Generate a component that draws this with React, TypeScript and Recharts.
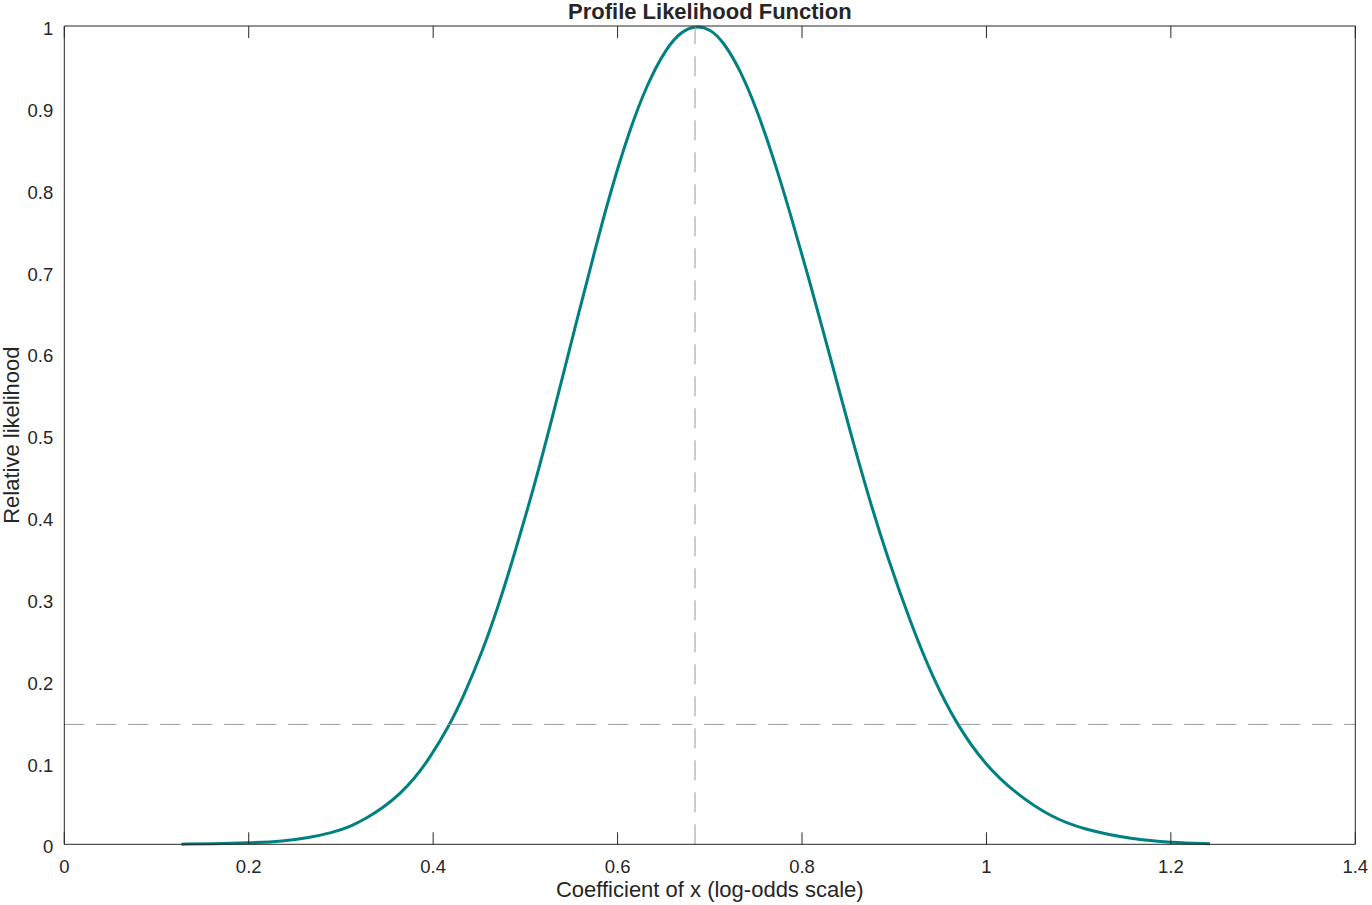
import { Label, Line, LineChart, ReferenceLine, XAxis, YAxis } from "recharts";

// coefficient values (log-odds scale)
const coefficient = [
  0.127, 0.16, 0.2, 0.2375, 0.265, 0.29, 0.31, 0.328, 0.346, 0.364, 0.38, 0.395,
  0.418, 0.433, 0.454, 0.4725, 0.4906, 0.5086, 0.525, 0.541, 0.5557, 0.57, 0.581,
  0.5954, 0.6135, 0.6316, 0.653, 0.67, 0.684, 0.7, 0.7147, 0.7328, 0.751, 0.769,
  0.787, 0.805, 0.823, 0.8383, 0.8567, 0.8745, 0.8929, 0.9179, 0.9424, 0.968,
  0.9985, 1.033, 1.069, 1.105, 1.159, 1.2, 1.2425,
];

// relative likelihood at each coefficient
const likelihood = [
  0.0002, 0.0006, 0.0017, 0.0038, 0.008, 0.014, 0.0215, 0.032, 0.045, 0.0615, 0.081, 0.103,
  0.146, 0.181, 0.237, 0.297, 0.364, 0.434, 0.503, 0.574, 0.64, 0.702, 0.75,
  0.809, 0.874, 0.928, 0.974, 0.994, 1.0, 0.997, 0.981, 0.947, 0.898, 0.839,
  0.772, 0.701, 0.627, 0.563, 0.486, 0.416, 0.35, 0.27, 0.202, 0.146,
  0.097, 0.061, 0.034, 0.018, 0.006, 0.0022, 0.0008,
];

const xTicks = [0, 0.2, 0.4, 0.6, 0.8, 1, 1.2, 1.4];
const yTicks = [0, 0.1, 0.2, 0.3, 0.4, 0.5, 0.6, 0.7, 0.8, 0.9, 1];

const mle = 0.684;
const cutoff = 0.1465;

const data = coefficient.map((x, i) => ({ x, y: likelihood[i] }));

const FONT = '"Liberation Sans", Arial, Helvetica, sans-serif';
const AXIS = "#262626";

// inner tick marks only, no labels
const noLabel = () => <g />;

export default function App() {
  return (
    <div style={{ position: "absolute", left: 0, top: 0, width: 1372, height: 905, fontFamily: FONT }}>
      <LineChart
        width={1372}
        height={905}
        data={data}
        margin={{ top: 26, right: 16.7, bottom: 0, left: 0 }}
      >
        <XAxis
          xAxisId="x"
          dataKey="x"
          type="number"
          domain={[0, 1.4]}
          ticks={xTicks}
          height={60.7}
          tickLine={false}
          tickMargin={10}
          axisLine={{ stroke: AXIS, strokeWidth: 1 }}
          tick={{ fill: AXIS, fontSize: 18.5, fontFamily: FONT }}
        >
          <Label
            value="Coefficient of x (log-odds scale)"
            position="insideBottom"
            offset={7.7}
            style={{ fill: AXIS, fontSize: 22, fontFamily: FONT }}
          />
        </XAxis>
        <XAxis
          xAxisId="xin"
          dataKey="x"
          type="number"
          domain={[0, 1.4]}
          ticks={xTicks}
          mirror
          tick={noLabel}
          tickSize={12}
          axisLine={false}
          tickLine={{ stroke: AXIS }}
        />
        <XAxis
          xAxisId="xtop"
          orientation="top"
          dataKey="x"
          type="number"
          domain={[0, 1.4]}
          ticks={xTicks}
          mirror
          tick={noLabel}
          tickSize={12}
          axisLine={{ stroke: AXIS }}
          tickLine={{ stroke: AXIS }}
        />
        <YAxis
          yAxisId="y"
          type="number"
          domain={[0, 1]}
          ticks={yTicks}
          width={64.3}
          tickLine={false}
          tickMargin={5}
          axisLine={{ stroke: AXIS, strokeWidth: 1 }}
          tick={{ fill: AXIS, fontSize: 18.5, fontFamily: FONT, dy: 2.5 }}
        >
          <Label
            value="Relative likelihood"
            angle={-90}
            position="insideLeft"
            offset={11}
            style={{ textAnchor: "middle", fill: AXIS, fontSize: 22, fontFamily: FONT }}
          />
        </YAxis>
        <YAxis
          yAxisId="yin"
          type="number"
          domain={[0, 1]}
          ticks={yTicks}
          mirror
          tick={noLabel}
          tickSize={12}
          axisLine={false}
          tickLine={{ stroke: AXIS }}
        />
        <YAxis
          yAxisId="yright"
          orientation="right"
          type="number"
          domain={[0, 1]}
          ticks={yTicks}
          mirror
          tick={noLabel}
          tickSize={12}
          axisLine={{ stroke: AXIS }}
          tickLine={{ stroke: AXIS }}
        />
        <Line
          xAxisId="x"
          yAxisId="y"
          dataKey="y"
          type="basis"
          stroke="#008080"
          strokeWidth={3}
          dot={false}
          activeDot={false}
          isAnimationActive={false}
        />
        <ReferenceLine
          xAxisId="x"
          yAxisId="y"
          x={mle}
          stroke="#9a9a9a"
          strokeWidth={1}
          strokeDasharray="20 12"
        />
        <ReferenceLine
          xAxisId="x"
          yAxisId="y"
          y={cutoff}
          stroke="#9a9a9a"
          strokeWidth={1}
          strokeDasharray="20 12"
        />
      </LineChart>
      <svg
        width={1372}
        height={40}
        style={{ position: "absolute", left: 0, top: 0, pointerEvents: "none" }}
      >
        <text
          x={709.8}
          y={18.5}
          textAnchor="middle"
          fontFamily={FONT}
          fontWeight="bold"
          fontSize={22}
          fill={AXIS}
        >
          Profile Likelihood Function
        </text>
      </svg>
    </div>
  );
}
